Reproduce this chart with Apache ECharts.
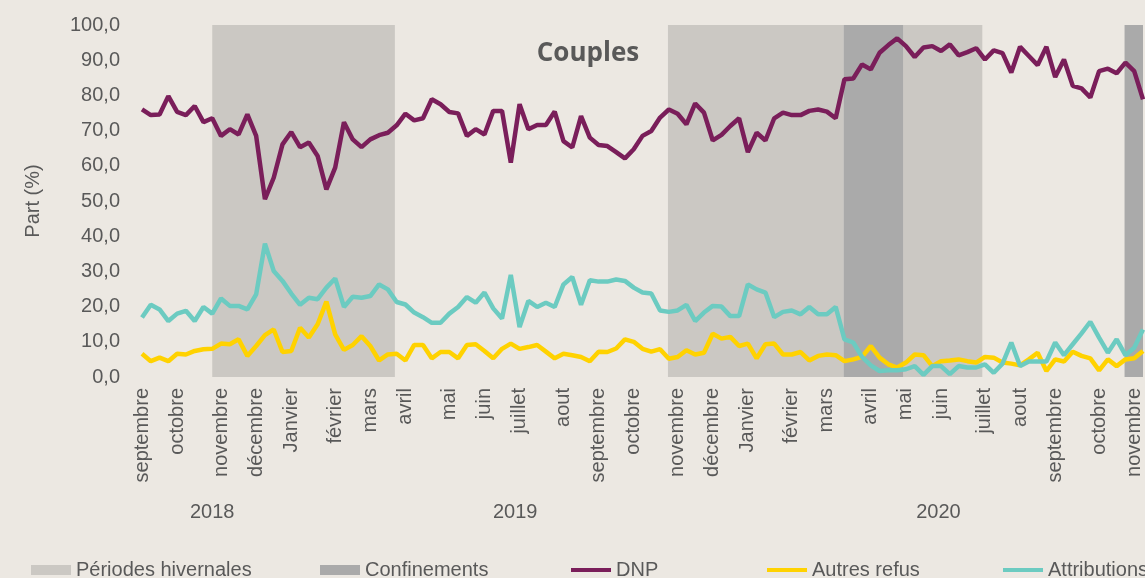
<!DOCTYPE html>
<html>
<head>
<meta charset="utf-8">
<script src="https://cdn.jsdelivr.net/npm/echarts@6/dist/echarts.min.js"></script>
<style>
  html, body { margin: 0; padding: 0; background: #ECE8E2; }
  #main { width: 1145px; height: 578px; }
</style>
</head>
<body>
<div id="main"></div>
<script>
// une valeur par semaine, de septembre 2018 à novembre 2020
var dnp = [76.0,74.4,74.6,79.8,75.3,74.4,77.0,72.4,73.5,68.5, 70.4,68.9,74.6,68.5,50.5,56.6,66.1,69.6,65.3,66.6,
  62.8,53.3,59.5,72.4,67.5,65.3,67.5,68.7,69.4,71.5, 74.8,72.9,73.5,78.9,77.5,75.3,74.9,68.5,70.4,68.9,
  75.6,75.6,60.9,77.5,70.4,71.6,71.6,75.4,67.0,65.2, 74.1,68.0,65.9,65.6,63.9,62.1,64.7,68.5,69.9,73.7,
  76.0,74.8,71.8,77.7,75.1,67.2,68.8,71.3,73.5,63.9, 69.4,67.2,73.5,75.1,74.4,74.4,75.6,76.0,75.4,73.5,
  84.6,84.8,88.8,87.4,92.1,94.3,96.2,94.0,90.9,93.6, 94.0,92.6,94.5,91.4,92.3,93.4,90.2,92.8,92.0,86.5,
  93.8,91.2,88.6,93.8,85.2,90.2,82.7,82.0,79.4,86.9, 87.6,86.3,89.3,86.9,78.9];
var autresRefus = [6.6,4.5,5.5,4.5,6.6,6.4,7.4,7.9,8.0,9.5, 9.3,10.7,6.0,8.8,11.9,13.5,7.1,7.4,14.0,11.2,
  15.0,21.4,12.1,7.7,9.1,11.6,8.8,4.7,6.4,6.6, 4.7,9.1,9.1,5.3,7.1,7.1,5.3,9.1,9.3,7.4,
  5.3,8.0,9.5,8.0,8.5,9.1,7.2,5.3,6.6,6.2, 5.7,4.5,7.2,7.1,8.1,10.7,10.0,8.0,7.2,7.9,
  5.2,5.7,7.6,6.4,6.9,12.3,10.9,11.4,8.8,9.5, 5.3,9.3,9.5,6.4,6.4,7.1,4.7,6.0,6.4,6.2,
  4.5,5.0,5.7,8.8,5.5,3.6,2.7,4.1,6.4,6.2, 3.1,4.5,4.7,5.0,4.5,4.1,5.7,5.5,4.1,3.8,
  3.3,5.0,6.9,1.7,5.0,4.4,7.2,6.0,5.3,1.9, 5.0,3.1,5.0,5.3,7.4];
var attributions = [16.9,20.5,19.2,15.9,18.0,18.8,15.9,19.9,18.0,22.3, 20.2,20.2,19.2,23.5,37.9,30.1,27.3,23.7,20.5,22.5,
  22.1,25.4,28.0,19.9,22.8,22.5,23.0,26.3,24.9,21.3, 20.6,18.3,17.0,15.4,15.4,18.0,19.9,22.7,21.1,24.0,
  19.5,16.6,29.0,14.2,21.6,19.9,21.1,19.9,26.3,28.4, 20.5,27.5,27.1,27.1,27.7,27.3,25.4,24.0,23.7,18.9,
  18.5,18.9,20.5,15.9,18.3,20.2,20.0,17.3,17.3,26.3, 24.9,24.0,17.0,18.5,18.9,17.8,19.9,17.8,17.8,19.9,
  10.7,9.8,5.7,3.3,1.7,1.9,1.9,2.2,3.1,0.6, 3.1,3.1,0.8,3.1,2.7,2.7,3.6,1.2,3.8,9.8,
  3.1,4.4,4.4,4.4,9.8,6.2,9.3,12.4,15.7,11.2, 6.9,10.7,6.2,8.3,13.5];

// libellés des mois (semaine où ils apparaissent)
var monthNames = ['septembre','octobre','novembre','décembre','Janvier','février','mars','avril','mai','juin','juillet','aout',
  'septembre','octobre','novembre','décembre','Janvier','février','mars','avril','mai','juin','juillet','aout',
  'septembre','octobre','novembre'];
var monthIdx = [0,4,9,13,17,22,26,30,35,39,43,48, 52,56,61,65,69,74,78,83,87,91,96,100, 104,109,113];
var yearNames = ['2018','2019','2020'];
var yearPos = [8, 42.5, 90.7];

// périodes (en semaines)
var hivers = [[8.0, 28.8], [59.9, 79.9], [86.7, 95.7]];
var confinements = [[79.9, 86.7], [111.9, 114]];

var N = dnp.length;
var weeks = [];
for (var i = 0; i < N; i++) weeks.push('s' + i);

var txt = '#595959';
var font = 'Liberation Sans';

var myChart = echarts.init(document.getElementById('main'));
myChart.setOption({
  backgroundColor: '#ECE8E2',
  animation: false,
  title: {
    text: 'Couples',
    left: 583,
    top: 36,
    textAlign: 'center',
    textStyle: { color: txt, fontSize: 26, fontWeight: 'bold', fontFamily: 'Open Sans' }
  },
  grid: { left: 142, right: 2, top: 25, bottom: 201 },
  // une légende par élément, comme dans le graphique d'origine
  legend: [
    { data: ['Périodes hivernales'], left: 31, itemHeight: 10, top: 560 },
    { data: ['Confinements'], left: 320, itemHeight: 10, top: 560 },
    { data: ['DNP'], left: 571, itemHeight: 4, top: 560 },
    { data: ['Autres refus'], left: 767, itemHeight: 4, top: 560 },
    { data: ['Attributions'], left: 1003, itemHeight: 4, top: 560 }
  ].map(function (l) {
    l.icon = 'rect';
    l.padding = 0;
    l.itemWidth = 40;
    l.textStyle = { color: txt, fontSize: 20, fontFamily: font };
    return l;
  }),
  xAxis: [{
    type: 'category',
    data: weeks,
    boundaryGap: false,
    axisLine: { show: false },
    axisTick: { show: false },
    axisLabel: {
      interval: function (idx) { return monthIdx.indexOf(idx) >= 0; },
      formatter: function (v, idx) { return monthNames[monthIdx.indexOf(idx)]; },
      rotate: 90,
      margin: 11,
      color: txt,
      fontSize: 20,
      fontFamily: font
    }
  }, {
    // axe caché pour les années et les zones grisées
    type: 'value',
    min: 0,
    max: N - 1,
    position: 'bottom',
    axisLine: { show: false },
    axisTick: { show: false },
    splitLine: { show: false },
    axisLabel: {
      customValues: yearPos,
      formatter: function (v) { return yearNames[yearPos.indexOf(v)]; },
      margin: 125,
      color: txt,
      fontSize: 20,
      fontFamily: font
    }
  }],
  yAxis: {
    type: 'value',
    min: 0,
    max: 100,
    interval: 10,
    name: 'Part (%)',
    nameLocation: 'middle',
    nameGap: 99,
    nameTextStyle: { color: txt, fontSize: 20, fontFamily: font },
    axisLine: { show: false },
    axisTick: { show: false },
    splitLine: { show: false },
    axisLabel: {
      margin: 22,
      color: txt,
      fontSize: 20,
      fontFamily: font,
      formatter: function (v) { return v.toFixed(1).replace('.', ','); }
    }
  },
  series: [{
    name: 'Périodes hivernales',
    type: 'line',
    xAxisIndex: 1,
    data: [],
    symbol: 'none',
    itemStyle: { color: '#CBC8C3' },
    lineStyle: { color: '#CBC8C3' },
    markArea: {
      silent: true,
      itemStyle: { color: '#CBC8C3' },
      data: hivers.map(function (p) { return [{ xAxis: p[0] }, { xAxis: p[1] }]; })
    }
  }, {
    name: 'Confinements',
    type: 'line',
    xAxisIndex: 1,
    data: [],
    symbol: 'none',
    itemStyle: { color: '#AAAAAA' },
    lineStyle: { color: '#AAAAAA' },
    markArea: {
      silent: true,
      itemStyle: { color: '#AAAAAA' },
      data: confinements.map(function (p) { return [{ xAxis: p[0] }, { xAxis: p[1] }]; })
    }
  }, {
    name: 'DNP',
    type: 'line',
    data: dnp,
    symbol: 'none',
    z: 3,
    itemStyle: { color: '#7A1E5A' },
    lineStyle: { color: '#7A1E5A', width: 4.5 }
  }, {
    name: 'Autres refus',
    type: 'line',
    data: autresRefus,
    symbol: 'none',
    z: 3,
    itemStyle: { color: '#FFD200' },
    lineStyle: { color: '#FFD200', width: 4.5 }
  }, {
    name: 'Attributions',
    type: 'line',
    data: attributions,
    symbol: 'none',
    z: 3,
    itemStyle: { color: '#6CCBC1' },
    lineStyle: { color: '#6CCBC1', width: 4.5 }
  }]
});
</script>
</body>
</html>
